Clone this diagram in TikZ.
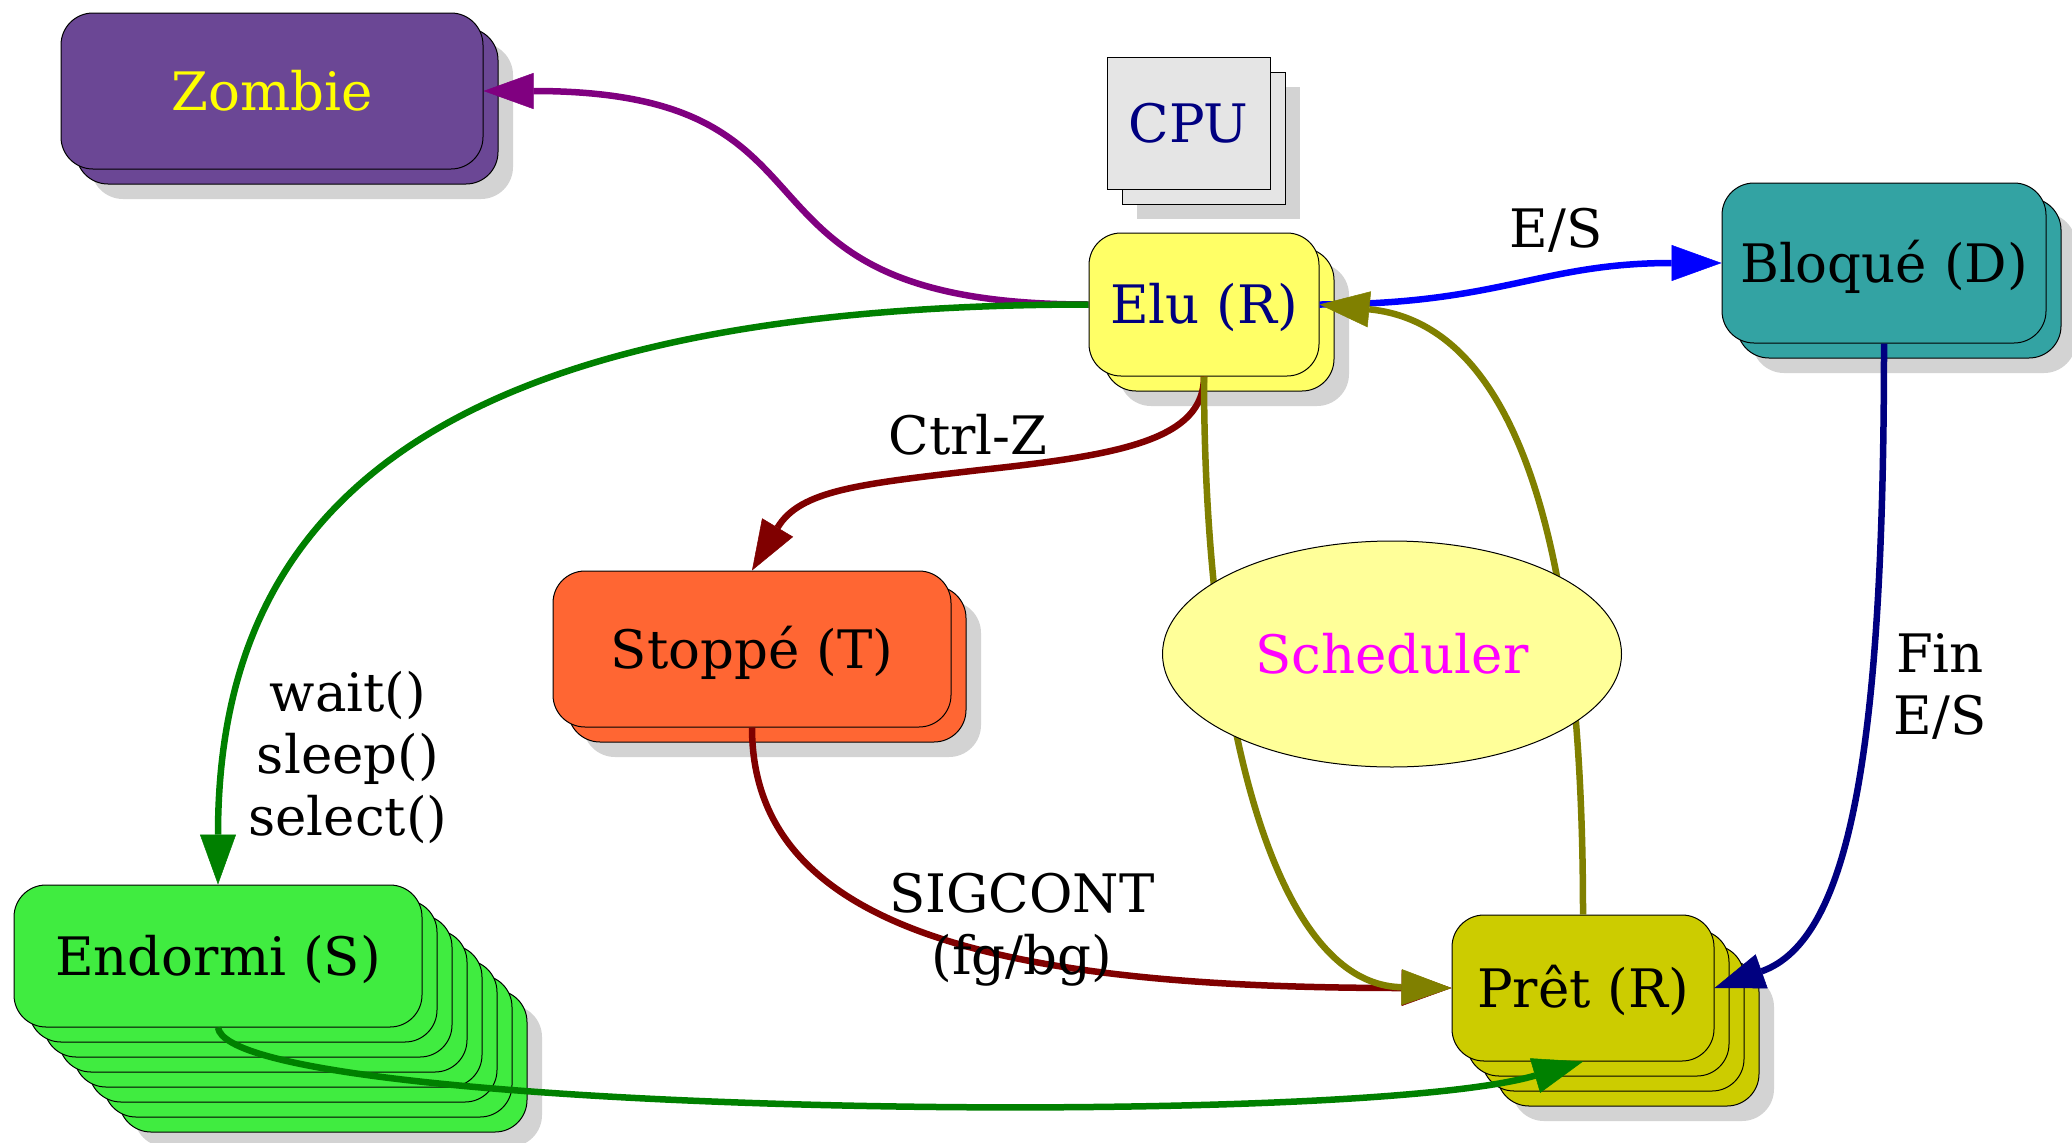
\documentclass[tikz,border=0pt]{standalone}
\usepackage{fontspec}
\setmainfont{DejaVu Serif}
\usetikzlibrary{arrows.meta,shapes.geometric}

% colours
\definecolor{shadowgray}{HTML}{D3D3D3}
\definecolor{zombiefill}{HTML}{6B4795}
\definecolor{zombietext}{HTML}{FFFF00}
\definecolor{elufill}{HTML}{FFFF66}
\definecolor{cpufill}{HTML}{E5E5E5}
\definecolor{bloquefill}{HTML}{33A3A3}
\definecolor{stoppefill}{HTML}{FF6633}
\definecolor{endormifill}{HTML}{40EC40}
\definecolor{pretfill}{HTML}{CCCC00}
\definecolor{schedfill}{HTML}{FFFF99}
\definecolor{schedtext}{HTML}{FF00FF}
\definecolor{navytext}{HTML}{000080}
\definecolor{edgepurple}{HTML}{800080}
\definecolor{edgegreen}{HTML}{008000}
\definecolor{edgeblue}{HTML}{0000FF}
\definecolor{edgered}{HTML}{800000}
\definecolor{edgeolive}{HTML}{808000}
\definecolor{edgenavy}{HTML}{000080}

\newcommand\labelfont{\fontsize{53}{62}\selectfont}

\tikzset{
  stackcorner/.style={rounded corners=32pt},
  boxline/.style={draw=black, line width=1pt},
  capbox/.style={text height=38.6pt, text depth=0pt},
  statebox/.style={boxline, stackcorner, inner sep=0pt, capbox, font=\labelfont},
  trans/.style={line width=6.5pt, -{Triangle[length=50pt,width=36pt,line width=0.5pt]}},
  lbl/.style={font=\labelfont, inner sep=0pt, align=center},
}

% a state drawn as a stack of cards with a drop shadow
% #1 name, #2 centre x, #3 centre y, #4 width, #5 height,
% #6 cards behind, #7 fill, #8 text colour, #9 text
\newcommand\cardstack[9]{%
  \pgfmathsetmacro\shoff{15*(#6+1)}
  \fill[shadowgray, stackcorner]
    ({#2-#4/2+\shoff},{#3-#5/2+\shoff}) rectangle ({#2+#4/2+\shoff},{#3+#5/2+\shoff});
  \foreach \k in {#6,...,1}{
    \draw[boxline, fill=#7, stackcorner]
      ({#2-#4/2+15*\k},{#3-#5/2+15*\k}) rectangle ({#2+#4/2+15*\k},{#3+#5/2+15*\k});
  }
  \node[statebox, fill=#7, text=#8, minimum width=#4pt, minimum height=#5pt] (#1) at (#2,#3) {#9};
}

\begin{document}
\begin{tikzpicture}[x=1pt, y=-1pt]
\useasboundingbox (0,0) rectangle (2072,1143);
\clip (0,0) rectangle (2072,1143);

% states
\cardstack{zombie}{272}{91}{422}{156}{1}{zombiefill}{zombietext}{Zombie}
\begin{scope}[stackcorner/.style={sharp corners}]
  \cardstack{cpu}{1188.5}{123}{163}{132}{1}{cpufill}{navytext}{CPU}
\end{scope}
\cardstack{elu}{1204}{304.5}{230}{143}{1}{elufill}{navytext}{Elu (R)}
\cardstack{bloque}{1884}{263}{324}{160}{1}{bloquefill}{black}{Bloqué (D)}
\cardstack{stoppe}{752}{649}{398}{156}{1}{stoppefill}{black}{Stoppé (T)}
\cardstack{endormi}{218}{956}{408}{142}{7}{endormifill}{black}{Endormi (S)}
\cardstack{pret}{1583}{988}{262}{146}{3}{pretfill}{black}{Prêt (R)}

% transitions
\draw[trans, edgepurple] (elu.west) .. controls (700,304.5) and (870,91) .. (zombie.east);
\draw[trans, edgegreen] (elu.west) .. controls (409,305) and (218,525) .. (endormi.north);
\draw[trans, edgeblue] (elu.east) .. controls (1500,304.5) and (1540,263) .. (bloque.west);
\draw[trans, edgered] (elu.south) .. controls (1204,440) and (1120,455) .. (980,470)
                      .. controls (860,484) and (800,490) .. (stoppe.north);
\draw[trans, edgered] (stoppe.south) .. controls (752,930) and (1000,988) .. (pret.west);
\draw[trans, edgeolive] (elu.south) .. controls (1204,700) and (1270,985) .. (pret.west);
\draw[trans, edgeolive] (pret.north) .. controls (1583,450) and (1480,320) .. (elu.east);
\draw[trans, edgenavy] (bloque.south) .. controls (1884,750) and (1850,940) .. (pret.east);
\draw[trans, edgegreen] (endormi.south) .. controls (230,1115) and (1350,1130) .. (pret.south);

% scheduler sits over the two olive transitions
\node[ellipse, draw=black, line width=1pt, fill=schedfill, inner sep=0pt,
      minimum width=459pt, minimum height=226pt, text=schedtext,
      font=\labelfont, capbox] (sched) at (1392,654) {Scheduler};

% transition labels
\node[lbl, capbox] (lblES) at (1556,228.5) {E/S};
\node[lbl, capbox] (lblCtrlZ) at (968,435) {Ctrl-Z};
\node[lbl] (lblWait) at (348,757) {wait()\\sleep()\\select()};
\node[lbl] (lblSigcont) at (1022,930) {SIGCONT\\(fg/bg)};
\node[lbl] (lblFinES) at (1940,686) {Fin\\E/S};
\end{tikzpicture}
\end{document}
